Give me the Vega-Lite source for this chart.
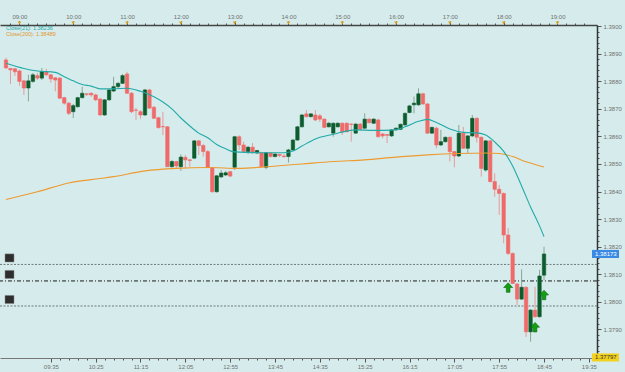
{
  "$schema": "https://vega.github.io/schema/vega-lite/v6.json",
  "width": 597,
  "height": 333,
  "autosize": {"type": "none"},
  "padding": {"left": 0, "top": 25, "right": 28, "bottom": 14},
  "background": "#d6ecec",
  "config": {
    "view": {"stroke": null, "fill": "#d6ecec"},
    "axis": {"labelFont": "Liberation Sans", "labelFontSize": 6, "labelColor": "#707070", "tickColor": "#555555", "domainColor": "#444444", "grid": false, "title": null, "labelOverlap": false}
  },
  "datasets": {
    "candles": [
      {"t":525,"o":1.38878,"h":1.38886,"l":1.38846,"c":1.38849},
      {"t":530,"o":1.38847,"h":1.38849,"l":1.38791,"c":1.38842},
      {"t":535,"o":1.38846,"h":1.38849,"l":1.38820,"c":1.38835},
      {"t":540,"o":1.38838,"h":1.38842,"l":1.38784,"c":1.38800},
      {"t":545,"o":1.38802,"h":1.38805,"l":1.38751,"c":1.38776},
      {"t":550,"o":1.38776,"h":1.38824,"l":1.38727,"c":1.38802},
      {"t":555,"o":1.38800,"h":1.38831,"l":1.38795,"c":1.38824},
      {"t":560,"o":1.38821,"h":1.38831,"l":1.38805,"c":1.38812},
      {"t":565,"o":1.38812,"h":1.38849,"l":1.38805,"c":1.38836},
      {"t":570,"o":1.38836,"h":1.38846,"l":1.38820,"c":1.38824},
      {"t":575,"o":1.38824,"h":1.38827,"l":1.38795,"c":1.38809},
      {"t":580,"o":1.38813,"h":1.38816,"l":1.38764,"c":1.38805},
      {"t":585,"o":1.38812,"h":1.38816,"l":1.38736,"c":1.38739},
      {"t":590,"o":1.38741,"h":1.38744,"l":1.38715,"c":1.38721},
      {"t":595,"o":1.38721,"h":1.38725,"l":1.38678,"c":1.38684},
      {"t":600,"o":1.38690,"h":1.38718,"l":1.38667,"c":1.38712},
      {"t":605,"o":1.38708,"h":1.38744,"l":1.38705,"c":1.38741},
      {"t":610,"o":1.38741,"h":1.38781,"l":1.38738,"c":1.38757},
      {"t":615,"o":1.38755,"h":1.38758,"l":1.38747,"c":1.38753},
      {"t":620,"o":1.38757,"h":1.38760,"l":1.38744,"c":1.38751},
      {"t":625,"o":1.38751,"h":1.38755,"l":1.38729,"c":1.38733},
      {"t":630,"o":1.38736,"h":1.38740,"l":1.38675,"c":1.38678},
      {"t":635,"o":1.38678,"h":1.38736,"l":1.38675,"c":1.38733},
      {"t":640,"o":1.38733,"h":1.38773,"l":1.38729,"c":1.38769},
      {"t":645,"o":1.38765,"h":1.38817,"l":1.38762,"c":1.38781},
      {"t":650,"o":1.38781,"h":1.38798,"l":1.38776,"c":1.38793},
      {"t":655,"o":1.38793,"h":1.38827,"l":1.38791,"c":1.38821},
      {"t":660,"o":1.38827,"h":1.38835,"l":1.38755,"c":1.38757},
      {"t":665,"o":1.38757,"h":1.38762,"l":1.38685,"c":1.38690},
      {"t":670,"o":1.38696,"h":1.38704,"l":1.38660,"c":1.38695},
      {"t":675,"o":1.38690,"h":1.38696,"l":1.38664,"c":1.38678},
      {"t":680,"o":1.38678,"h":1.38773,"l":1.38675,"c":1.38769},
      {"t":685,"o":1.38769,"h":1.38773,"l":1.38700,"c":1.38703},
      {"t":690,"o":1.38706,"h":1.38711,"l":1.38664,"c":1.38666},
      {"t":695,"o":1.38668,"h":1.38671,"l":1.38629,"c":1.38632},
      {"t":700,"o":1.38636,"h":1.38689,"l":1.38605,"c":1.38635},
      {"t":705,"o":1.38635,"h":1.38638,"l":1.38489,"c":1.38490},
      {"t":710,"o":1.38490,"h":1.38515,"l":1.38487,"c":1.38509},
      {"t":715,"o":1.38509,"h":1.38511,"l":1.38485,"c":1.38493},
      {"t":720,"o":1.38490,"h":1.38535,"l":1.38475,"c":1.38525},
      {"t":725,"o":1.38524,"h":1.38533,"l":1.38485,"c":1.38515},
      {"t":730,"o":1.38515,"h":1.38517,"l":1.38490,"c":1.38513},
      {"t":735,"o":1.38521,"h":1.38587,"l":1.38518,"c":1.38584},
      {"t":740,"o":1.38584,"h":1.38587,"l":1.38533,"c":1.38567},
      {"t":745,"o":1.38567,"h":1.38573,"l":1.38527,"c":1.38545},
      {"t":750,"o":1.38545,"h":1.38551,"l":1.38485,"c":1.38487},
      {"t":755,"o":1.38487,"h":1.38489,"l":1.38396,"c":1.38399},
      {"t":760,"o":1.38399,"h":1.38460,"l":1.38396,"c":1.38457},
      {"t":765,"o":1.38453,"h":1.38478,"l":1.38449,"c":1.38467},
      {"t":770,"o":1.38460,"h":1.38475,"l":1.38456,"c":1.38468},
      {"t":775,"o":1.38472,"h":1.38475,"l":1.38453,"c":1.38456},
      {"t":780,"o":1.38488,"h":1.38602,"l":1.38478,"c":1.38599},
      {"t":785,"o":1.38599,"h":1.38604,"l":1.38551,"c":1.38569},
      {"t":790,"o":1.38569,"h":1.38581,"l":1.38542,"c":1.38545},
      {"t":795,"o":1.38545,"h":1.38565,"l":1.38536,"c":1.38561},
      {"t":800,"o":1.38561,"h":1.38576,"l":1.38538,"c":1.38541},
      {"t":805,"o":1.38540,"h":1.38551,"l":1.38536,"c":1.38549},
      {"t":810,"o":1.38540,"h":1.38544,"l":1.38487,"c":1.38490},
      {"t":815,"o":1.38488,"h":1.38544,"l":1.38481,"c":1.38541},
      {"t":820,"o":1.38540,"h":1.38542,"l":1.38524,"c":1.38527},
      {"t":825,"o":1.38527,"h":1.38540,"l":1.38524,"c":1.38536},
      {"t":830,"o":1.38535,"h":1.38536,"l":1.38525,"c":1.38531},
      {"t":835,"o":1.38529,"h":1.38536,"l":1.38522,"c":1.38527},
      {"t":840,"o":1.38527,"h":1.38555,"l":1.38505,"c":1.38551},
      {"t":845,"o":1.38551,"h":1.38591,"l":1.38547,"c":1.38587},
      {"t":850,"o":1.38587,"h":1.38638,"l":1.38584,"c":1.38635},
      {"t":855,"o":1.38635,"h":1.38682,"l":1.38633,"c":1.38678},
      {"t":860,"o":1.38682,"h":1.38696,"l":1.38669,"c":1.38672},
      {"t":865,"o":1.38672,"h":1.38685,"l":1.38669,"c":1.38682},
      {"t":870,"o":1.38678,"h":1.38696,"l":1.38656,"c":1.38660},
      {"t":875,"o":1.38675,"h":1.38682,"l":1.38653,"c":1.38663},
      {"t":880,"o":1.38663,"h":1.38666,"l":1.38631,"c":1.38633},
      {"t":885,"o":1.38635,"h":1.38653,"l":1.38633,"c":1.38648},
      {"t":890,"o":1.38612,"h":1.38651,"l":1.38599,"c":1.38648},
      {"t":895,"o":1.38635,"h":1.38651,"l":1.38633,"c":1.38648},
      {"t":900,"o":1.38648,"h":1.38651,"l":1.38605,"c":1.38617},
      {"t":905,"o":1.38648,"h":1.38651,"l":1.38615,"c":1.38617},
      {"t":910,"o":1.38645,"h":1.38647,"l":1.38581,"c":1.38644},
      {"t":915,"o":1.38612,"h":1.38649,"l":1.38609,"c":1.38645},
      {"t":920,"o":1.38645,"h":1.38649,"l":1.38624,"c":1.38626},
      {"t":925,"o":1.38630,"h":1.38684,"l":1.38627,"c":1.38663},
      {"t":930,"o":1.38663,"h":1.38666,"l":1.38647,"c":1.38650},
      {"t":935,"o":1.38648,"h":1.38666,"l":1.38645,"c":1.38663},
      {"t":940,"o":1.38660,"h":1.38664,"l":1.38596,"c":1.38599},
      {"t":945,"o":1.38609,"h":1.38613,"l":1.38594,"c":1.38602},
      {"t":950,"o":1.38607,"h":1.38609,"l":1.38576,"c":1.38604},
      {"t":955,"o":1.38602,"h":1.38627,"l":1.38598,"c":1.38624},
      {"t":960,"o":1.38624,"h":1.38633,"l":1.38620,"c":1.38630},
      {"t":965,"o":1.38626,"h":1.38647,"l":1.38624,"c":1.38644},
      {"t":970,"o":1.38642,"h":1.38687,"l":1.38638,"c":1.38684},
      {"t":975,"o":1.38687,"h":1.38715,"l":1.38684,"c":1.38711},
      {"t":980,"o":1.38715,"h":1.38745,"l":1.38684,"c":1.38721},
      {"t":985,"o":1.38715,"h":1.38775,"l":1.38711,"c":1.38755},
      {"t":990,"o":1.38755,"h":1.38759,"l":1.38715,"c":1.38718},
      {"t":995,"o":1.38718,"h":1.38722,"l":1.38609,"c":1.38612},
      {"t":1000,"o":1.38612,"h":1.38636,"l":1.38609,"c":1.38633},
      {"t":1005,"o":1.38630,"h":1.38635,"l":1.38557,"c":1.38569},
      {"t":1010,"o":1.38569,"h":1.38624,"l":1.38565,"c":1.38581},
      {"t":1015,"o":1.38581,"h":1.38600,"l":1.38578,"c":1.38597},
      {"t":1020,"o":1.38597,"h":1.38600,"l":1.38509,"c":1.38545},
      {"t":1025,"o":1.38545,"h":1.38547,"l":1.38488,"c":1.38529},
      {"t":1030,"o":1.38529,"h":1.38642,"l":1.38525,"c":1.38612},
      {"t":1035,"o":1.38612,"h":1.38635,"l":1.38555,"c":1.38557},
      {"t":1040,"o":1.38557,"h":1.38605,"l":1.38540,"c":1.38602},
      {"t":1045,"o":1.38602,"h":1.38678,"l":1.38598,"c":1.38666},
      {"t":1050,"o":1.38666,"h":1.38669,"l":1.38578,"c":1.38597},
      {"t":1055,"o":1.38597,"h":1.38600,"l":1.38454,"c":1.38484},
      {"t":1060,"o":1.38478,"h":1.38587,"l":1.38472,"c":1.38584},
      {"t":1065,"o":1.38584,"h":1.38587,"l":1.38433,"c":1.38436},
      {"t":1070,"o":1.38436,"h":1.38466,"l":1.38381,"c":1.38408},
      {"t":1075,"o":1.38408,"h":1.38424,"l":1.38315,"c":1.38393},
      {"t":1080,"o":1.38393,"h":1.38396,"l":1.38212,"c":1.38242},
      {"t":1085,"o":1.38242,"h":1.38267,"l":1.38169,"c":1.38175},
      {"t":1090,"o":1.38175,"h":1.38178,"l":1.38064,"c":1.38066},
      {"t":1095,"o":1.38064,"h":1.38067,"l":1.37987,"c":1.38009},
      {"t":1100,"o":1.38009,"h":1.38117,"l":1.38006,"c":1.38052},
      {"t":1105,"o":1.38052,"h":1.38055,"l":1.37872,"c":1.37890},
      {"t":1110,"o":1.37890,"h":1.37973,"l":1.37854,"c":1.37969},
      {"t":1115,"o":1.37969,"h":1.38054,"l":1.37942,"c":1.37945},
      {"t":1120,"o":1.37945,"h":1.38115,"l":1.37942,"c":1.38093},
      {"t":1125,"o":1.38096,"h":1.38199,"l":1.38078,"c":1.38173}
    ],
    "ma": [
      {"t":525,"v":1.38866,"ma":"21"},{"t":545,"v":1.38847,"ma":"21"},{"t":560,"v":1.38838,"ma":"21"},
      {"t":580,"v":1.38833,"ma":"21"},{"t":590,"v":1.38817,"ma":"21"},{"t":600,"v":1.38802,"ma":"21"},
      {"t":610,"v":1.38789,"ma":"21"},{"t":620,"v":1.38783,"ma":"21"},{"t":630,"v":1.38773,"ma":"21"},
      {"t":645,"v":1.38773,"ma":"21"},{"t":660,"v":1.38775,"ma":"21"},{"t":675,"v":1.38764,"ma":"21"},
      {"t":690,"v":1.38744,"ma":"21"},{"t":700,"v":1.38725,"ma":"21"},{"t":710,"v":1.38700,"ma":"21"},
      {"t":720,"v":1.38667,"ma":"21"},{"t":730,"v":1.38638,"ma":"21"},{"t":740,"v":1.38612,"ma":"21"},
      {"t":750,"v":1.38595,"ma":"21"},{"t":760,"v":1.38571,"ma":"21"},{"t":770,"v":1.38555,"ma":"21"},
      {"t":780,"v":1.38544,"ma":"21"},{"t":810,"v":1.38541,"ma":"21"},{"t":835,"v":1.38541,"ma":"21"},
      {"t":845,"v":1.38547,"ma":"21"},{"t":855,"v":1.38565,"ma":"21"},{"t":870,"v":1.38591,"ma":"21"},
      {"t":890,"v":1.38608,"ma":"21"},{"t":915,"v":1.38624,"ma":"21"},{"t":935,"v":1.38622,"ma":"21"},
      {"t":955,"v":1.38623,"ma":"21"},{"t":970,"v":1.38635,"ma":"21"},{"t":985,"v":1.38655,"ma":"21"},
      {"t":995,"v":1.38662,"ma":"21"},{"t":1005,"v":1.38651,"ma":"21"},{"t":1020,"v":1.38627,"ma":"21"},
      {"t":1035,"v":1.38615,"ma":"21"},{"t":1050,"v":1.38613,"ma":"21"},{"t":1060,"v":1.38605,"ma":"21"},
      {"t":1070,"v":1.38580,"ma":"21"},{"t":1080,"v":1.38546,"ma":"21"},{"t":1090,"v":1.38493,"ma":"21"},
      {"t":1100,"v":1.38420,"ma":"21"},{"t":1110,"v":1.38344,"ma":"21"},{"t":1120,"v":1.38275,"ma":"21"},
      {"t":1125,"v":1.38236,"ma":"21"},
      {"t":525,"v":1.38371,"ma":"200"},{"t":560,"v":1.38399,"ma":"200"},{"t":595,"v":1.38431,"ma":"200"},
      {"t":630,"v":1.38447,"ma":"200"},{"t":645,"v":1.38454,"ma":"200"},{"t":680,"v":1.38475,"ma":"200"},
      {"t":715,"v":1.38484,"ma":"200"},{"t":750,"v":1.38487,"ma":"200"},{"t":785,"v":1.38484,"ma":"200"},
      {"t":820,"v":1.38491,"ma":"200"},{"t":855,"v":1.38500,"ma":"200"},{"t":890,"v":1.38509,"ma":"200"},
      {"t":925,"v":1.38515,"ma":"200"},{"t":960,"v":1.38525,"ma":"200"},{"t":995,"v":1.38533,"ma":"200"},
      {"t":1030,"v":1.38538,"ma":"200"},{"t":1060,"v":1.38540,"ma":"200"},{"t":1075,"v":1.38538,"ma":"200"},
      {"t":1090,"v":1.38527,"ma":"200"},{"t":1105,"v":1.38508,"ma":"200"},{"t":1125,"v":1.38489,"ma":"200"}
    ],
    "levels": [
      {"p":1.38135,"kind":"a"},
      {"p":1.38075,"kind":"b"},
      {"p":1.37984,"kind":"a"}
    ],
    "arrows": [
      {"t":1085,"p":1.38051},
      {"t":1115,"p":1.37907},
      {"t":1125,"p":1.38024}
    ],
    "tags": [
      {"p":1.38173,"label":"1.38173","kind":"bid"},
      {"p":1.37797,"label":"1.37797","kind":"low"}
    ],
    "hours": [
      {"t":540},{"t":600},{"t":660},{"t":720},{"t":780},{"t":840},{"t":900},{"t":960},{"t":1020},{"t":1080},{"t":1140}
    ]
  },
  "resolve": {"axis": {"x": "independent", "y": "independent"}},
  "layer": [
    {
      "data": {"name": "levels"},
      "mark": {"type": "rule", "strokeWidth": 1},
      "encoding": {
        "y": {"field": "p", "type": "quantitative", "scale": {"domain": [1.37795, 1.39005], "nice": false, "zero": false}, "axis": null},
        "color": {"condition": {"test": "datum.kind == 'b'", "value": "#1c1c1c"}, "value": "#6c7878"},
        "strokeDash": {"condition": {"test": "datum.kind == 'b'", "value": [4, 2, 1, 2]}, "value": [2, 1.5]}
      }
    },
    {
      "data": {"name": "candles"},
      "mark": {"type": "rule", "strokeWidth": 1},
      "encoding": {
        "x": {"field": "t", "type": "quantitative", "scale": {"domain": [523.9, 1178.5], "nice": false, "zero": false},
          "axis": {"orient": "top",
            "values": [530,540,550,560,570,580,590,600,610,620,630,640,650,660,670,680,690,700,710,720,730,740,750,760,770,780,790,800,810,820,830,840,850,860,870,880,890,900,910,920,930,940,950,960,970,980,990,1000,1010,1020,1030,1040,1050,1060,1070,1080,1090,1100,1110,1120,1130,1140,1150,1160,1170],
            "labelExpr": "datum.value % 60 == 0 ? pad('' + floor(datum.value / 60), 2, '0', 'left') + ':00' : ''",
            "tickSize": {"condition": {"test": "datum.value % 60 == 0", "value": 4}, "value": 2},
            "labelPadding": 2, "domainWidth": 1.5}},
        "y": {"field": "l", "type": "quantitative", "scale": {"domain": [1.37795, 1.39005], "nice": false, "zero": false},
          "axis": {"orient": "right",
            "values": [1.378,1.3782,1.3784,1.3786,1.3788,1.379,1.3792,1.3794,1.3796,1.3798,1.38,1.3802,1.3804,1.3806,1.3808,1.381,1.3812,1.3814,1.3816,1.3818,1.382,1.3822,1.3824,1.3826,1.3828,1.383,1.3832,1.3834,1.3836,1.3838,1.384,1.3842,1.3844,1.3846,1.3848,1.385,1.3852,1.3854,1.3856,1.3858,1.386,1.3862,1.3864,1.3866,1.3868,1.387,1.3872,1.3874,1.3876,1.3878,1.388,1.3882,1.3884,1.3886,1.3888,1.389,1.3892,1.3894,1.3896,1.3898,1.39],
            "labelExpr": "abs(datum.value * 1000 - round(datum.value * 1000)) < 0.05 && datum.value > 1.3785 ? format(datum.value, '.4f') : ''",
            "tickSize": {"condition": {"test": "abs(datum.value * 1000 - round(datum.value * 1000)) < 0.05", "value": 4}, "value": 2},
            "labelPadding": 2, "domainWidth": 1.5, "domainColor": "#333333"}},
        "y2": {"field": "h"},
        "color": {"condition": {"test": "datum.c > datum.o", "value": "#8aa596"}, "value": "#e79a9a"}
      }
    },
    {
      "data": {"name": "candles"},
      "mark": {"type": "bar", "size": 3.4, "strokeWidth": 0.6},
      "encoding": {
        "x": {"field": "t", "type": "quantitative",
          "axis": {"orient": "bottom",
            "values": [575,585,595,605,615,625,635,645,655,665,675,685,695,705,715,725,735,745,755,765,775,785,795,805,815,825,835,845,855,865,875,885,895,905,915,925,935,945,955,965,975,985,995,1005,1015,1025,1035,1045,1055,1065,1075,1085,1095,1105,1115,1125,1135,1145,1155,1165,1175],
            "labelExpr": "(datum.value - 575) % 50 == 0 ? pad('' + floor(datum.value / 60), 2, '0', 'left') + ':' + pad('' + (datum.value % 60), 2, '0', 'left') : ''",
            "tickSize": {"condition": {"test": "(datum.value - 575) % 50 == 0", "value": 4}, "value": 2},
            "labelPadding": 1, "domainColor": "#777777"}},
        "y": {"field": "o", "type": "quantitative", "axis": null},
        "y2": {"field": "c"},
        "color": {"condition": {"test": "datum.c > datum.o", "value": "#0d5c2e"}, "value": "#f06a6a"},
        "stroke": {"condition": {"test": "datum.c > datum.o", "value": "#0d5c2e"}, "value": "#f06a6a"}
      }
    },
    {
      "data": {"name": "ma"},
      "transform": [{"filter": "datum.ma == '200'"}],
      "mark": {"type": "line", "strokeWidth": 1.1, "color": "#ee9a30", "interpolate": "monotone"},
      "encoding": {
        "x": {"field": "t", "type": "quantitative", "axis": null},
        "y": {"field": "v", "type": "quantitative", "axis": null}
      }
    },
    {
      "data": {"name": "ma"},
      "transform": [{"filter": "datum.ma == '21'"}],
      "mark": {"type": "line", "strokeWidth": 1.1, "color": "#22aaa8", "interpolate": "monotone"},
      "encoding": {
        "x": {"field": "t", "type": "quantitative", "axis": null},
        "y": {"field": "v", "type": "quantitative", "axis": null}
      }
    },
    {
      "data": {"name": "arrows"},
      "mark": {"type": "point", "filled": true, "size": 90, "opacity": 1, "color": "#12a012", "stroke": "#0a640a", "strokeWidth": 0.6,
        "shape": "M0,-1 L0.95,0 L0.38,0 L0.38,1 L-0.38,1 L-0.38,0 L-0.95,0 Z"},
      "encoding": {
        "x": {"field": "t", "type": "quantitative", "axis": null},
        "y": {"field": "p", "type": "quantitative", "axis": null}
      }
    },
    {
      "data": {"name": "levels"},
      "mark": {"type": "point", "filled": true, "size": 324, "opacity": 1, "color": "#2e2e2e", "stroke": "#8a8a8a", "strokeWidth": 0.5, "yOffset": -6.5,
        "shape": "M0,-0.45 L1,-0.45 L1,0.45 L0,0.45 Z"},
      "encoding": {
        "x": {"datum": 523.9, "type": "quantitative", "axis": null},
        "y": {"field": "p", "type": "quantitative", "axis": null}
      }
    },
    {
      "data": {"name": "hours"},
      "mark": {"type": "point", "filled": true, "size": 14, "opacity": 1, "color": "#d9a020", "shape": "triangle-down", "yOffset": -2},
      "encoding": {
        "x": {"field": "t", "type": "quantitative", "axis": null},
        "y": {"datum": 1.39005, "type": "quantitative", "axis": null}
      }
    },
    {
      "data": {"name": "tags"},
      "mark": {"type": "point", "filled": true, "size": 2916, "opacity": 1, "strokeWidth": 0,
        "shape": "M0,-0.15 L1,-0.15 L1,0.15 L0,0.15 Z"},
      "encoding": {
        "x": {"datum": 1178.5, "type": "quantitative", "axis": null},
        "y": {"field": "p", "type": "quantitative", "axis": null},
        "color": {"condition": {"test": "datum.kind == 'bid'", "value": "#3a8ae4"}, "value": "#f2d21e"}
      }
    },
    {
      "data": {"name": "tags"},
      "mark": {"type": "text", "align": "left", "baseline": "middle", "dx": 3, "font": "Liberation Sans", "fontSize": 6},
      "encoding": {
        "x": {"datum": 1178.5, "type": "quantitative", "axis": null},
        "y": {"field": "p", "type": "quantitative", "axis": null},
        "text": {"field": "label"},
        "color": {"condition": {"test": "datum.kind == 'bid'", "value": "#ffffff"}, "value": "#333333"}
      }
    },
    {
      "data": {"values": [{"label": "Close(21): 1.38236"}]},
      "mark": {"type": "text", "align": "left", "baseline": "top", "dx": 1, "dy": 1, "font": "Liberation Sans", "fontSize": 5.5, "color": "#22aaa8"},
      "encoding": {
        "x": {"datum": 523.9, "type": "quantitative", "axis": null},
        "y": {"datum": 1.39005, "type": "quantitative", "axis": null},
        "text": {"field": "label"}
      }
    },
    {
      "data": {"values": [{"label": "Close(200): 1.38489"}]},
      "mark": {"type": "text", "align": "left", "baseline": "top", "dx": 1, "dy": 7, "font": "Liberation Sans", "fontSize": 5.5, "color": "#e0962e"},
      "encoding": {
        "x": {"datum": 523.9, "type": "quantitative", "axis": null},
        "y": {"datum": 1.39005, "type": "quantitative", "axis": null},
        "text": {"field": "label"}
      }
    }
  ]
}
